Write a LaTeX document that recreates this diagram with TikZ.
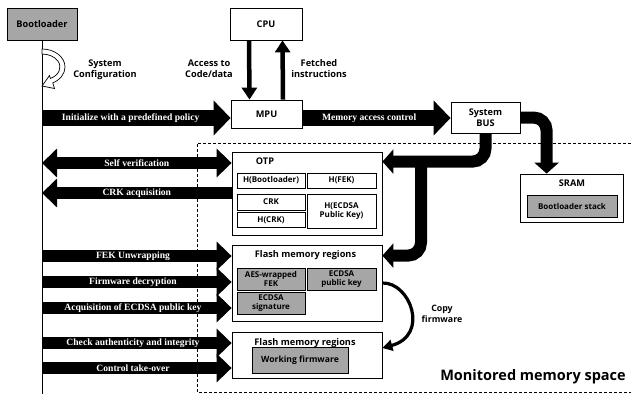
\documentclass[tikz,border=0pt]{standalone}
\usepackage{fontspec}
\setmainfont{Liberation Serif}
\newfontfamily\labelfont{Open Sans}
\usetikzlibrary{arrows.meta}
\definecolor{boxgray}{RGB}{166,166,166}

\begin{document}
\begin{tikzpicture}[x=1pt, y=-1pt,
  sanslabel/.style={font=\labelfont\bfseries\fontsize{9.2}{11}\selectfont, align=center, inner sep=0pt},
  smalllabel/.style={font=\labelfont\bfseries\fontsize{8}{9.2}\selectfont, align=center, inner sep=0pt},
  box/.style={draw, line width=0.8pt, fill=white, inner sep=0pt, align=center, sanslabel},
  cell/.style={draw, line width=0.8pt, fill=white, inner sep=0pt, align=center, smalllabel},
  graycell/.style={cell, fill=boxgray},
  arrowtext/.style={text=white, font=\bfseries\fontsize{9.6}{11}\selectfont, inner sep=0pt},
  blockarrow/.style={line width=12pt, -{Triangle[length=15pt,width=28pt]}},
  blockarrowboth/.style={line width=12pt, {Triangle[length=15pt,width=28pt]}-{Triangle[length=15pt,width=28pt]}},
  widearrow/.style={line width=16pt, -{Triangle[length=17pt,width=34pt]}},
  busarrow/.style={line width=12pt, rounded corners=13pt, -{Triangle[length=11pt,width=24pt]}},
  cpuarrow/.style={line width=4.5pt, -{Triangle[length=12pt,width=15pt]}},
  copyarrow/.style={line width=3.2pt, -{Triangle[length=10pt,width=11pt]}},
  region/.style={line width=0.7pt, dash pattern=on 3pt off 2pt}
]
\useasboundingbox (0,0) rectangle (631,394);

% monitored memory region (open to the right)
\draw[region] (631,143) -- (197,143) -- (197,392) -- (631,392);
\node[font=\labelfont\bfseries\fontsize{14.5}{16}\selectfont, inner sep=0pt] (monlabel) at (533,377) {Monitored memory space};

% bootloader and its lifeline
\node[box, fill=boxgray, minimum width=70pt, minimum height=32pt] (boot) at (42,24) {Bootloader};
\coordinate (lifeend) at (42,394);
\draw[line width=0.8pt] (boot.south) -- (lifeend);

% system configuration self loop (hollow curved arrow)
\draw[line width=0.7pt, fill=white]
  (42,49) arc[start angle=-90, end angle=62, x radius=23, y radius=18]
  -- (54.5,88.5) -- (42,86) -- (49.5,75.5) -- (50.4,78.5)
  arc[start angle=62, end angle=-90, x radius=18, y radius=13] -- cycle;
\node[sanslabel] (syscfg) at (105,70) {System\\Configuration};

% CPU, MPU, system bus
\node[box, minimum width=72pt, minimum height=32pt] (cpu) at (266,24) {CPU};
\node[box, minimum width=71pt, minimum height=28pt] (mpu) at (266.5,114) {MPU};
\node[box, minimum width=69pt, minimum height=31pt] (bus) at (485.5,117.5) {System\\BUS};

\draw[cpuarrow] ([xshift=-17pt]cpu.south) -- ([xshift=-17pt]mpu.north);
\draw[cpuarrow] ([xshift=16.5pt]mpu.north) -- ([xshift=16.5pt]cpu.south);
\node[sanslabel] (acclabel) at (209,69) {Access to\\Code/data};
\node[sanslabel] (fetchlabel) at (319,69) {Fetched\\instructions};

% SRAM
\node[box, minimum width=103pt, minimum height=48pt] (sram) at (571.5,198) {};
\node[sanslabel] (sramtitle) at (572,183) {SRAM};
\node[graycell, minimum width=90pt, minimum height=22pt] (stack) at (572,206) {Bootloader stack};

% OTP
\node[box, minimum width=150pt, minimum height=83pt] (otp) at (307,193.5) {};
\node[sanslabel] (otptitle) at (265,161) {OTP};
\node[cell, minimum width=68pt, minimum height=15pt] (hboot) at (271,180.5) {H(Bootloader)};
\node[cell, minimum width=69pt, minimum height=15pt] (hfek) at (341.5,180.5) {H(FEK)};
\node[cell, minimum width=68pt, minimum height=16pt] (crk) at (271,202) {CRK};
\node[cell, minimum width=68pt, minimum height=15pt] (hcrk) at (271,220) {H(CRK)};
\node[cell, minimum width=69pt, minimum height=34pt] (hecdsa) at (341.5,211) {H(ECDSA\\Public Key)};

% flash memory with the firmware image
\node[box, minimum width=150pt, minimum height=76pt] (flash1) at (307,283) {};
\node[sanslabel] (flash1title) at (305.5,255) {Flash memory regions};
\node[graycell, minimum width=68pt, minimum height=22pt] (fek) at (271,279) {AES-wrapped\\FEK};
\node[graycell, minimum width=69pt, minimum height=22pt] (pubkey) at (341.5,279) {ECDSA\\public key};
\node[graycell, minimum width=68pt, minimum height=22pt] (sig) at (271,303) {ECDSA\\signature};

% flash memory with the working firmware
\node[box, minimum width=150pt, minimum height=46pt] (flash2) at (307,355) {};
\node[sanslabel] (flash2title) at (305,343) {Flash memory regions};
\node[graycell, minimum width=96pt, minimum height=26pt, font=\labelfont\bfseries\fontsize{8.6}{10}\selectfont] (work) at (300,360) {Working firmware};

% bus connections
\draw[busarrow] (bus.east) -| ([xshift=27pt]sram.north west);
\draw[busarrow] (bus.south) |- ([yshift=-10pt]otp.north east);
\coordinate (tee) at (421,158);
\draw[busarrow] (tee) |- ([yshift=-11pt]flash1.north east);

% copy firmware
\draw[copyarrow] (flash1.east) .. controls (410,282) and (430,335) .. ([yshift=7pt]flash2.east);
\node[sanslabel, font=\labelfont\bfseries\fontsize{8.8}{10.5}\selectfont] (copylabel) at (442,314) {Copy\\firmware};

% lifeline anchor points
\coordinate (l0) at (42,118);
\coordinate (l1) at (42,163);
\coordinate (l2) at (42,193);
\coordinate (l3) at (42,256);
\coordinate (l4) at (42,282);
\coordinate (l5) at (42,308);
\coordinate (l6) at (42,343);
\coordinate (l7) at (42,368);

% boot sequence messages
\draw[widearrow] (l0) -- (mpu.west |- l0)
  node[arrowtext, pos=0.47] (m0) {Initialize with a predefined policy};
\draw[widearrow] (mpu.east |- l0) -- (bus.west |- l0)
  node[arrowtext, pos=0.45] (m0b) {Memory access control};
\draw[blockarrowboth] (l1) -- (otp.west |- l1)
  node[arrowtext, midway] (m1) {Self verification};
\draw[blockarrow] (otp.west |- l2) -- (l2)
  node[arrowtext, midway] (m2) {CRK acquisition};
\draw[blockarrow] (l3) -- (flash1.west |- l3)
  node[arrowtext, pos=0.48] (m3) {FEK Unwrapping};
\draw[blockarrow] (l4) -- (flash1.west |- l4)
  node[arrowtext, pos=0.48] (m4) {Firmware decryption};
\draw[blockarrow] (l5) -- (flash1.west |- l5)
  node[arrowtext, pos=0.48] (m5) {Acquisition of ECDSA public key};
\draw[blockarrow] (l6) -- (flash2.west |- l6)
  node[arrowtext, pos=0.48] (m6) {Check authenticity and integrity};
\draw[blockarrow] (l7) -- (flash2.west |- l7)
  node[arrowtext, pos=0.48] (m7) {Control take-over};
\end{tikzpicture}
\end{document}
